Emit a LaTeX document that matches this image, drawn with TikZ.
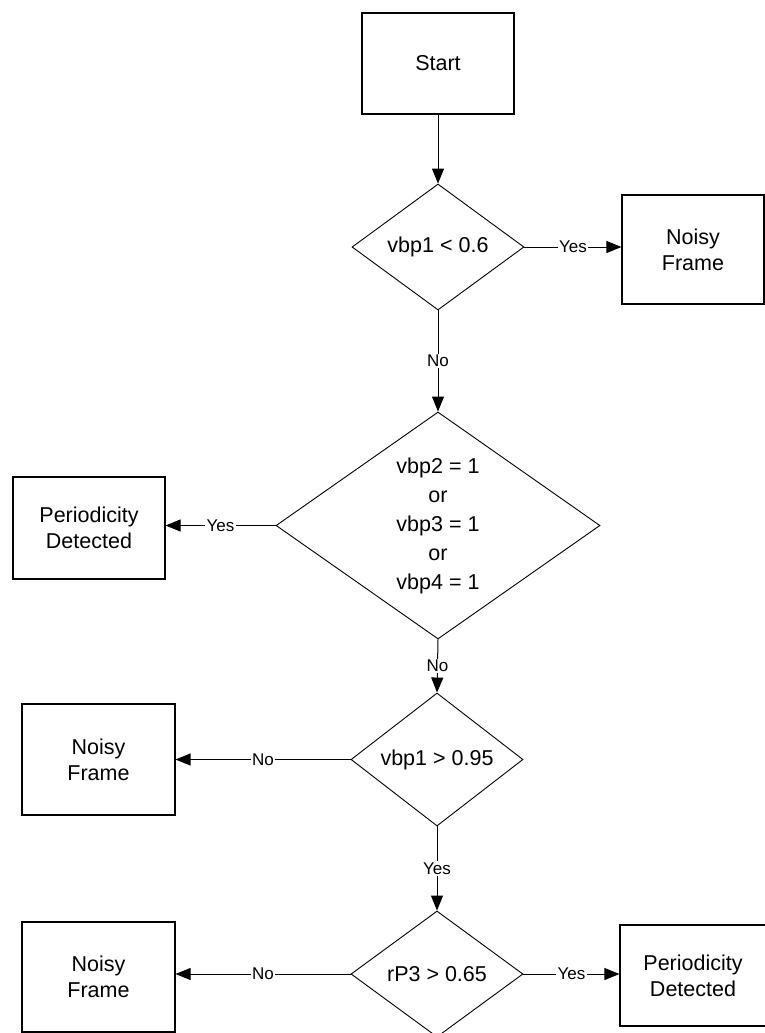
\documentclass[tikz,border=0pt]{standalone}
\usepackage{fontspec}
\setmainfont{Liberation Sans}
\usetikzlibrary{shapes.geometric,arrows.meta}

\tikzset{
  every picture/.style={x=1pt,y=-1pt},
  box/.style={draw, line width=1.1pt, rectangle, inner sep=0pt, align=center,
    font=\fontsize{21.5}{26}\selectfont},
  decision/.style={draw, line width=0.9pt, diamond, inner sep=0pt, align=center,
    minimum width=172pt, minimum height=126pt,
    font=\fontsize{21.5}{26}\selectfont},
  flow/.style={line width=1pt, -{Triangle[length=15pt,width=12pt]}},
  lab/.style={midway, fill=white, inner sep=1.5pt, font=\fontsize{17}{20}\selectfont},
}

\begin{document}
\begin{tikzpicture}
\useasboundingbox (0,0) rectangle (765,1033);

% process boxes
\node[box, minimum width=152pt, minimum height=101pt] (start) at (438,63.5) {Start};
\node[box, minimum width=142pt, minimum height=109pt] (noisyA) at (693,249.5) {Noisy\\Frame};
\node[box, minimum width=152pt, minimum height=102pt] (perA) at (89,528) {Periodicity\\Detected};
\node[box, minimum width=153pt, minimum height=111pt] (noisyB) at (98.5,759.5) {Noisy\\Frame};
\node[box, minimum width=153pt, minimum height=110pt] (noisyC) at (98.5,977) {Noisy\\Frame};
\node[box, minimum width=146pt, minimum height=101pt] (perB) at (693,975.5) {Periodicity\\Detected};

% decisions
\node[decision] (dA) at (438,247) {vbp1 < 0.6};
\node[decision, minimum width=324pt, minimum height=227pt,
      font=\fontsize{21.5}{29}\selectfont] (dB) at (438,525.5)
      {vbp2 = 1\\or\\vbp3 = 1\\or\\vbp4 = 1};
\node[decision] (dC) at (437,759.5) {vbp1 > 0.95};
\node[decision] (dD) at (437,974) {rP3 > 0.65};

% connectors
\draw[flow] (start) -- (dA);
\draw[flow] (dA.east) -- node[lab]{Yes} (dA.east -| noisyA.west);
\draw[flow] (dA.south) -- node[lab]{No} (dB.north);
\draw[flow] (dB.west) -- node[lab]{Yes} (dB.west -| perA.east);
\draw[flow] (dB.south) -- node[lab]{No} (dC.north);
\draw[flow] (dC.west) -- node[lab]{No} (dC.west -| noisyB.east);
\draw[flow] (dC.south) -- node[lab]{Yes} (dD.north);
\draw[flow] (dD.west) -- node[lab]{No} (dD.west -| noisyC.east);
\draw[flow] (dD.east) -- node[lab]{Yes} (dD.east -| perB.west);
\end{tikzpicture}
\end{document}
